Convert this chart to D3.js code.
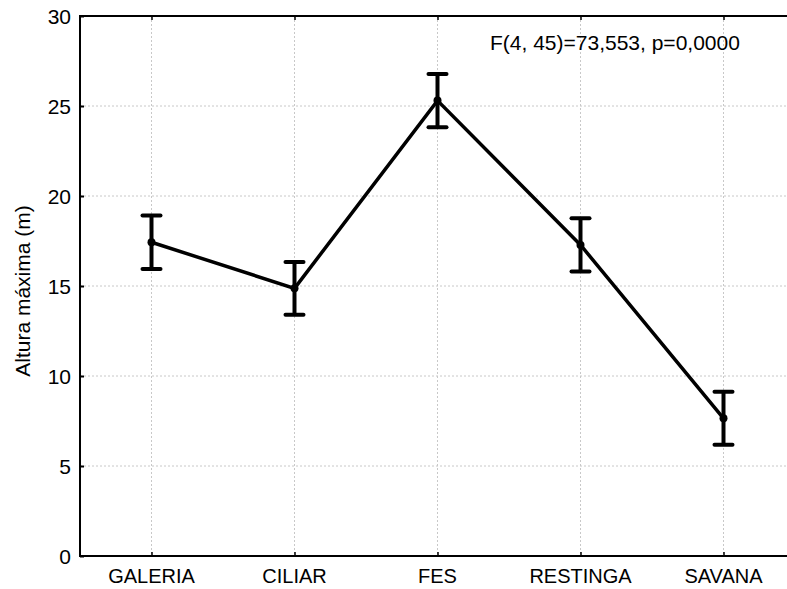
<!DOCTYPE html>
<html>
<head>
<meta charset="utf-8">
<script src="https://cdn.jsdelivr.net/npm/d3@7"></script>
<style>
body { margin: 0; background: #fff; }
text { font-family: "Liberation Sans", Arial, sans-serif; fill: #000; }
</style>
</head>
<body>
<div id="chart"></div>
<script>
var width = 787;
var height = 589;

// data
var categories = ["GALERIA", "CILIAR", "FES", "RESTINGA", "SAVANA"];
var means = [17.43, 14.87, 25.30, 17.28, 7.65];
var errors = [1.48, 1.47, 1.48, 1.48, 1.47];
var yTicks = [0, 5, 10, 15, 20, 25, 30];
var statText = "F(4, 45)=73,553, p=0,0000";

var margin = {left: 80, top: 16, right: 795, bottom: 556};

var svg = d3.select("#chart").append("svg")
.attr("width", width)
.attr("height", height);

var x = d3.scalePoint()
.domain(categories)
.range([margin.left, margin.right])
.padding(0.5);

var y = d3.scaleLinear()
.domain([0, 30])
.range([margin.bottom, margin.top]);

// grid
svg.append("g").selectAll("line.h")
.data(yTicks.slice(1, -1))
.enter().append("line")
.attr("x1", margin.left).attr("x2", margin.right)
.attr("y1", function(d) { return y(d); }).attr("y2", function(d) { return y(d); })
.attr("stroke", "#c8c8c8").attr("stroke-dasharray", "2,2");

svg.append("g").selectAll("line.v")
.data(categories)
.enter().append("line")
.attr("x1", function(d) { return x(d); }).attr("x2", function(d) { return x(d); })
.attr("y1", margin.top).attr("y2", margin.bottom)
.attr("stroke", "#c8c8c8").attr("stroke-dasharray", "2,2");

// axes
var yAxis = svg.append("g")
.attr("transform", "translate(" + margin.left + ",0)")
.call(d3.axisRight(y).tickValues(yTicks).tickSize(4).tickFormat(""));
yAxis.select(".domain").remove();
yAxis.selectAll("line").attr("stroke-width", 2);

svg.append("g").selectAll("text")
.data(yTicks)
.enter().append("text")
.attr("x", 71)
.attr("y", function(d) { return y(d) + 7.5; })
.attr("text-anchor", "end")
.attr("font-size", 21)
.text(function(d) { return d; });

var xAxis = svg.append("g")
.attr("transform", "translate(0," + margin.bottom + ")")
.call(d3.axisTop(x).tickSize(4).tickFormat(""));
xAxis.select(".domain").remove();
xAxis.selectAll("line").attr("stroke-width", 1.5);

var xTop = svg.append("g")
.attr("transform", "translate(0," + margin.top + ")")
.call(d3.axisBottom(x).tickSize(4).tickFormat(""));
xTop.select(".domain").remove();
xTop.selectAll("line").attr("stroke-width", 1.5);

svg.append("g").selectAll("text")
.data(categories)
.enter().append("text")
.attr("x", function(d) { return x(d); })
.attr("y", 583)
.attr("text-anchor", "middle")
.attr("font-size", 20)
.text(function(d) { return d; });

// frame
svg.append("rect")
.attr("x", margin.left).attr("y", margin.top)
.attr("width", margin.right - margin.left)
.attr("height", margin.bottom - margin.top)
.attr("fill", "none").attr("stroke", "#000").attr("stroke-width", 2);

// y label
svg.append("text")
.attr("transform", "translate(30,291) rotate(-90)")
.attr("text-anchor", "middle")
.attr("font-size", 21)
.text("Altura máxima (m)");

// annotation
svg.append("text")
.attr("x", 490).attr("y", 50)
.attr("font-size", 21)
.text(statText);

// mean line
var line = d3.line()
.x(function(d, i) { return x(categories[i]); })
.y(function(d) { return y(d); });

svg.append("path")
.datum(means)
.attr("d", line)
.attr("fill", "none").attr("stroke", "#000").attr("stroke-width", 3.5);

// error bars
var bars = svg.append("g").selectAll("g")
.data(means)
.enter().append("g");

bars.append("line")
.attr("x1", function(d, i) { return x(categories[i]); })
.attr("x2", function(d, i) { return x(categories[i]); })
.attr("y1", function(d, i) { return y(d + errors[i]); })
.attr("y2", function(d, i) { return y(d - errors[i]); })
.attr("stroke", "#000").attr("stroke-width", 4);

bars.append("line")
.attr("x1", function(d, i) { return x(categories[i]) - 9; })
.attr("x2", function(d, i) { return x(categories[i]) + 9; })
.attr("y1", function(d, i) { return y(d + errors[i]); })
.attr("y2", function(d, i) { return y(d + errors[i]); })
.attr("stroke", "#000").attr("stroke-width", 4).attr("stroke-linecap", "round");

bars.append("line")
.attr("x1", function(d, i) { return x(categories[i]) - 9; })
.attr("x2", function(d, i) { return x(categories[i]) + 9; })
.attr("y1", function(d, i) { return y(d - errors[i]); })
.attr("y2", function(d, i) { return y(d - errors[i]); })
.attr("stroke", "#000").attr("stroke-width", 4).attr("stroke-linecap", "round");

bars.append("circle")
.attr("cx", function(d, i) { return x(categories[i]); })
.attr("cy", function(d) { return y(d); })
.attr("r", 4)
.attr("fill", "#000");
</script>
</body>
</html>
